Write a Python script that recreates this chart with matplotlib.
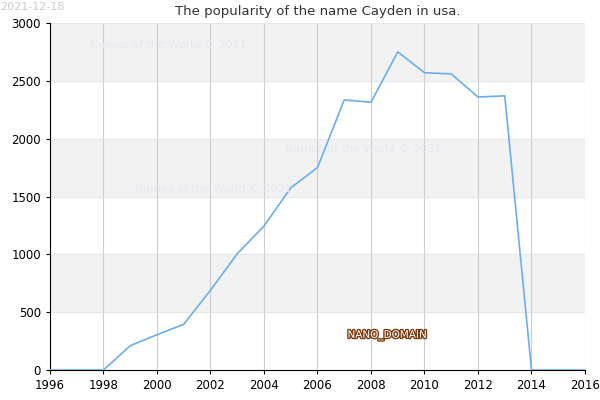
import matplotlib
matplotlib.use("Agg")
import matplotlib.pyplot as plt
import matplotlib.patheffects as pe

years = list(range(1996, 2017))
counts = [0, 0, 0, 210, 305, 395, 690, 1005, 1245, 1575, 1750, 2335, 2315, 2750, 2570, 2560, 2360, 2370, 0, 0, 0]
xticks = list(range(1996, 2017, 2))
yticks = [0, 500, 1000, 1500, 2000, 2500, 3000]

fig = plt.figure(figsize=(6, 4), dpi=100)
ax = fig.add_axes([50/600, 30/400, 535/600, 347/400])
for lo in (500, 1500, 2500):
    ax.axhspan(lo, lo + 500, color="#f2f2f2", zorder=0)
ax.set_xticks(xticks)
ax.set_yticks(yticks)
ax.grid(axis="x", color="#cccccc", linewidth=0.8, zorder=1)
ax.grid(axis="y", color="#e6e6e6", linewidth=0.6, zorder=1)
ax.plot(years, counts, color="#6aaef0", linewidth=1.2, zorder=3)
ax.set_xlim(1996, 2016)
ax.set_ylim(0, 3000)
ax.tick_params(labelsize=8.5, length=3)
for s in ("top", "right"):
    ax.spines[s].set_visible(False)
ax.set_title("The popularity of the name Cayden in usa.", fontsize=9.5, color="#333333", pad=6)
fig.text(0.0, 0.995, "2021-12-18", fontsize=8, color="#cccccc", va="top")
for x, y in ((0.15, 0.88), (0.475, 0.62), (0.225, 0.52)):
    fig.text(x, y, "Names of the World © 2021", fontsize=8, color="#e8e8f4", zorder=0)
ax.text(2008.6, 300, "NANO_DOMAIN", fontsize=7.5, color="white", ha="center", va="center",
        path_effects=[pe.withStroke(linewidth=2, foreground="#7a3a10")], zorder=4)
fig.savefig("out.png")
